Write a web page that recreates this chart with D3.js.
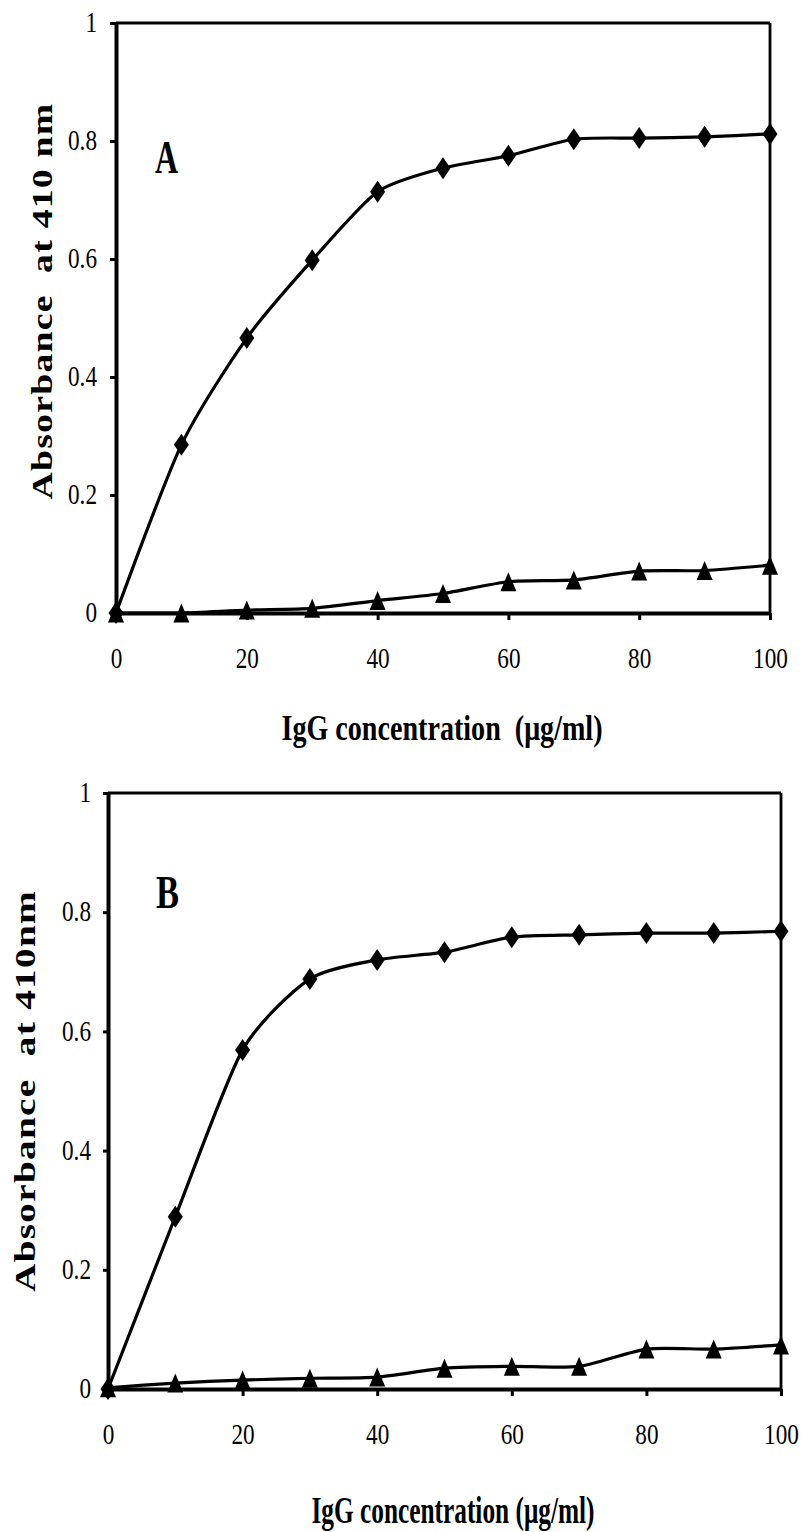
<!DOCTYPE html>
<html lang="en">
<head>
<meta charset="utf-8">
<title>IgG concentration vs absorbance</title>
<script src="https://cdn.jsdelivr.net/npm/d3@7"></script>
<style>
  body { margin: 0; background: #fff; }
  svg { display: block; }
  text { font-family: "Liberation Serif", "Times New Roman", serif; fill: #000; }
</style>
</head>
<body>
<script>
// data
var concentration = [0, 10, 20, 30, 40, 50, 60, 70, 80, 90, 100];
var diamondsA  = [0, 0.285, 0.466, 0.598, 0.714, 0.754, 0.775, 0.803, 0.805, 0.807, 0.812];
var trianglesA = [0, 0, 0.005, 0.008, 0.021, 0.033, 0.053, 0.056, 0.071, 0.072, 0.081];
var diamondsB  = [0, 0.289, 0.569, 0.688, 0.720, 0.733, 0.758, 0.762, 0.765, 0.765, 0.768];
var trianglesB = [0.002, 0.01, 0.015, 0.018, 0.02, 0.035, 0.038, 0.038, 0.067, 0.067, 0.074];
var xTicks = [0, 20, 40, 60, 80, 100];
var yTicks = [0, 0.2, 0.4, 0.6, 0.8, 1];

var W = 801, H = 1532;
var svg = d3.select("body").append("svg")
  .attr("width", W)
  .attr("height", H);

// squeeze a text element horizontally like the narrow serif in the figure
function squeeze(sel, k) {
  sel.each(function() {
    var L = this.getComputedTextLength();
    d3.select(this).attr("textLength", L * k).attr("lengthAdjust", "spacingAndGlyphs");
  });
}

function diamond(w, h) {
  return "M0," + (-h) + "L" + w + ",0L0," + h + "L" + (-w) + ",0Z";
}
function triangle(w, h) {
  return "M0," + (-h) + "L" + w + "," + h + "L" + (-w) + "," + h + "Z";
}

function drawPanel(p) {
  var x = d3.scaleLinear().domain([0, 100]).range([p.left, p.right]);
  var y = d3.scaleLinear().domain([0, 1]).range([p.bottom, p.top]);
  var g = svg.append("g");

  // frame top / right
  g.append("line")
    .attr("x1", p.left).attr("x2", p.right)
    .attr("y1", p.top).attr("y2", p.top)
    .attr("stroke", "#000").attr("stroke-width", 3.2);
  g.append("line")
    .attr("x1", p.right).attr("x2", p.right)
    .attr("y1", p.top).attr("y2", p.bottom)
    .attr("stroke", "#000").attr("stroke-width", 2.8);

  var yAxis = g.append("g")
    .attr("transform", "translate(" + p.left + ",0)")
    .call(d3.axisLeft(y).tickValues(yTicks).tickFormat(d3.format("~g"))
      .tickSize(p.ytick).tickSizeOuter(0).tickPadding(p.ypad));
  var xAxis = g.append("g")
    .attr("transform", "translate(0," + p.bottom + ")")
    .call(d3.axisBottom(x).tickValues(xTicks).tickFormat(d3.format("d"))
      .tickSize(7).tickSizeOuter(0).tickPadding(27));

  [yAxis, xAxis].forEach(function(a) {
    a.attr("font-family", null);
    a.select(".domain").attr("stroke-width", 4);
    a.selectAll(".tick line").attr("stroke-width", 3);
    a.selectAll(".tick text")
      .attr("font-size", 29);
    squeeze(a.selectAll(".tick text"), 0.8);
  });
  yAxis.selectAll(".tick text").attr("dy", "0.3em");

  var line = d3.line()
    .x(function(d, i) { return x(concentration[i]); })
    .y(function(d) { return y(d); })
    .curve(d3.curveCardinal.tension(0.3));

  [p.diamonds, p.triangles].forEach(function(s) {
    g.append("path")
      .datum(s)
      .attr("d", line)
      .attr("fill", "none")
      .attr("stroke", "#000")
      .attr("stroke-width", 3.2);
  });

  g.selectAll(".dia")
    .data(p.diamonds)
    .enter()
    .append("path")
    .attr("d", diamond(7.5, 11))
    .attr("transform", function(d, i) { return "translate(" + x(concentration[i]) + "," + y(d) + ")"; });

  g.selectAll(".tri")
    .data(p.triangles)
    .enter()
    .append("path")
    .attr("d", triangle(8, 9.5))
    .attr("transform", function(d, i) { return "translate(" + x(concentration[i]) + "," + y(d) + ")"; });

  // panel letter
  g.append("text")
    .attr("x", p.letterX).attr("y", p.letterY)
    .attr("font-size", 46).attr("font-weight", "bold")
    .attr("textLength", 23).attr("lengthAdjust", "spacingAndGlyphs")
    .text(p.letter);

  // y axis title
  g.append("text")
    .attr("transform", "translate(" + p.ylabX + "," + p.ylabY + ") rotate(-90)")
    .attr("text-anchor", "middle")
    .attr("font-size", 30).attr("font-weight", "bold")
    .attr("letter-spacing", 1)
    .style("white-space", "pre")
    .attr("textLength", p.ylabLen).attr("lengthAdjust", "spacingAndGlyphs")
    .text(p.ylab);

  // x axis title
  g.append("text")
    .attr("x", p.xlabX).attr("y", p.xlabY)
    .attr("text-anchor", "middle")
    .attr("font-size", p.xlabSize).attr("font-weight", "bold")
    .style("white-space", "pre")
    .attr("textLength", p.xlabLen).attr("lengthAdjust", "spacingAndGlyphs")
    .text(p.xlab);
}

drawPanel({
  left: 116, right: 770, top: 23, bottom: 613,
  ytick: 6, ypad: 13,
  diamonds: diamondsA, triangles: trianglesA,
  letter: "A", letterX: 155, letterY: 173,
  ylab: "Absorbance  at 410 nm", ylabX: 52, ylabY: 301, ylabLen: 397,
  xlab: "IgG concentration  (μg/ml)", xlabX: 442, xlabY: 740, xlabSize: 35, xlabLen: 321
});

drawPanel({
  left: 108, right: 781, top: 793, bottom: 1389,
  ytick: 5, ypad: 12,
  diamonds: diamondsB, triangles: trianglesB,
  letter: "B", letterX: 156, letterY: 908,
  ylab: "Absorbance  at 410nm", ylabX: 35, ylabY: 1091, ylabLen: 402,
  xlab: "IgG concentration (μg/ml)", xlabX: 453, xlabY: 1523, xlabSize: 37, xlabLen: 283
});
</script>
</body>
</html>
